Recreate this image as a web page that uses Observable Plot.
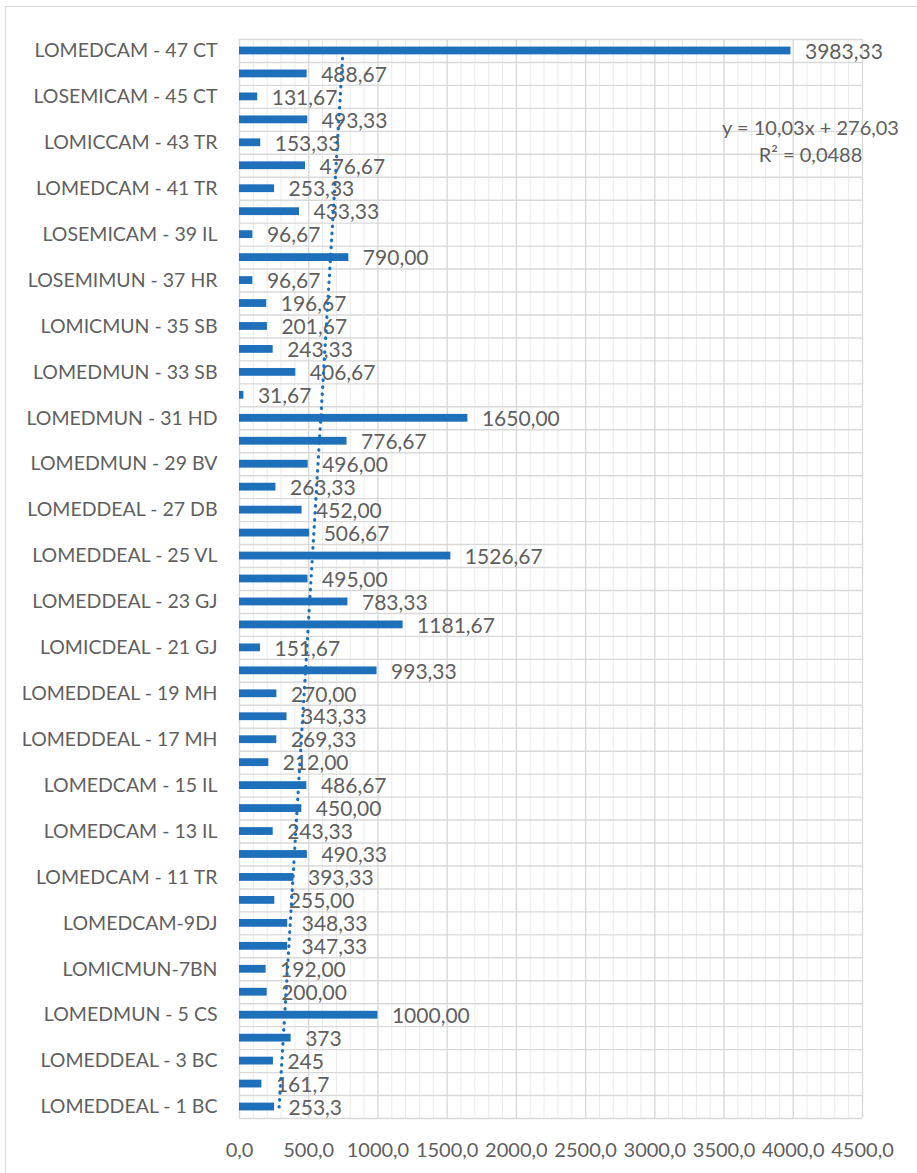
<!DOCTYPE html>
<html><head><meta charset="utf-8">
<script src="https://cdn.jsdelivr.net/npm/d3@7"></script>
<script src="https://cdn.jsdelivr.net/npm/@observablehq/plot@0.6"></script>
<style>
body{margin:0;background:#fff;overflow:hidden;width:917px;height:1173px;position:relative}
#frame{position:absolute;left:5px;top:6px;width:1000px;height:1300px;border:1.3px solid #d9d9d9;box-sizing:border-box}
#chart{position:absolute;left:0;top:0}
</style></head><body><div id="frame"></div><div id="chart"></div>
<script>
// Category index (1 = bottom, 47 = top)
const categoryIds = d3.range(1, 48);
// Category names (only odd ones are printed on the original axis)
const categoryNames = [
  "LOMEDDEAL - 1 BC", "", "LOMEDDEAL - 3 BC", "", "LOMEDMUN - 5 CS", "", "LOMICMUN-7BN", "", "LOMEDCAM-9DJ", "",
  "LOMEDCAM - 11 TR", "", "LOMEDCAM - 13 IL", "", "LOMEDCAM - 15 IL", "", "LOMEDDEAL - 17 MH", "", "LOMEDDEAL - 19 MH", "",
  "LOMICDEAL - 21 GJ", "", "LOMEDDEAL - 23 GJ", "", "LOMEDDEAL - 25 VL", "", "LOMEDDEAL - 27 DB", "", "LOMEDMUN - 29 BV", "",
  "LOMEDMUN - 31 HD", "", "LOMEDMUN - 33 SB", "", "LOMICMUN - 35 SB", "", "LOSEMIMUN - 37 HR", "", "LOSEMICAM - 39 IL", "",
  "LOMEDCAM - 41 TR", "", "LOMICCAM - 43 TR", "", "LOSEMICAM - 45 CT", "", "LOMEDCAM - 47 CT"
];
const values = [
  253.3, 161.7, 245, 373, 1000, 200, 192, 347.33, 348.33, 255,
  393.33, 490.33, 243.33, 450, 486.67, 212, 269.33, 343.33, 270, 993.33,
  151.67, 1181.67, 783.33, 495, 1526.67, 506.67, 452, 263.33, 496, 776.67,
  1650, 31.67, 406.67, 243.33, 201.67, 196.67, 96.67, 790, 96.67, 433.33,
  253.33, 476.67, 153.33, 493.33, 131.67, 488.67, 3983.33
];
const valueLabels = [
  "253,3", "161,7", "245", "373", "1000,00", "200,00", "192,00", "347,33", "348,33", "255,00",
  "393,33", "490,33", "243,33", "450,00", "486,67", "212,00", "269,33", "343,33", "270,00", "993,33",
  "151,67", "1181,67", "783,33", "495,00", "1526,67", "506,67", "452,00", "263,33", "496,00", "776,67",
  "1650,00", "31,67", "406,67", "243,33", "201,67", "196,67", "96,67", "790,00", "96,67", "433,33",
  "253,33", "476,67", "153,33", "493,33", "131,67", "488,67", "3983,33"
];
const xTicks = [0, 500, 1000, 1500, 2000, 2500, 3000, 3500, 4000, 4500];
const trendSlope = 10.03;
const trendIntercept = 276.03;
const trendR2 = 0.0488;

const blue = "#1F70BA";
const textColor = "#5f5f5f";
const fontFamily = "Lato, 'Open Sans', sans-serif";

const rows = categoryIds.map((id, i) => ({id, name: categoryNames[i], value: values[i], label: valueLabels[i]}));
const trend = categoryIds.map(id => ({id, x: trendIntercept + trendSlope * id}));
const minorTicks = d3.range(0, 4501, 100).filter(v => v % 500 !== 0);
const boundaries = d3.range(0, categoryIds.length + 1).map(k => k + 0.5);
const comma = (v, d) => v.toFixed(d).replace(".", ",");
const labeledIds = categoryIds.filter((id, i) => categoryNames[i] !== "");

const chart = Plot.plot({
  width: 917,
  height: 1173,
  marginLeft: 239,
  marginRight: 55,
  marginTop: 39,
  marginBottom: 55,
  style: {fontFamily, fontSize: "20px", color: textColor, background: "transparent", overflow: "visible"},
  x: {domain: [0, 4500]},
  y: {domain: [0.5, 47.5]},
  marks: [
    Plot.ruleX(minorTicks, {stroke: "#ebebeb", strokeWidth: 1}),
    Plot.ruleX(xTicks, {stroke: "#d9d9d9", strokeWidth: 1.4}),
    Plot.ruleY(boundaries, {stroke: "#d9d9d9", strokeWidth: 1.4}),
    Plot.rectX(rows, {x1: 0, x2: "value", y1: d => d.id - 0.17, y2: d => d.id + 0.17, fill: blue}),
    Plot.text(rows, {x: "value", y: "id", text: "label", dx: 14, dy: 1, textAnchor: "start", fill: textColor, fontSize: 21}),
    Plot.line(trend, {x: "x", y: "id", stroke: blue, strokeWidth: 3.2, strokeDasharray: "0.5 6.5", strokeLinecap: "round"}),
    Plot.text([`y = ${comma(trendSlope, 2)}x + ${comma(trendIntercept, 2)}`], {frameAnchor: "top-right", dx: -52, dy: 81, textAnchor: "middle", fill: textColor, fontSize: 20}),
    Plot.text([`R² = ${comma(trendR2, 4)}`], {frameAnchor: "top-right", dx: -52, dy: 108, textAnchor: "middle", fill: textColor, fontSize: 20}),
    Plot.axisX({ticks: xTicks, tickFormat: d => comma(d, 1), tickSize: 0, tickPadding: 24, label: null, fill: textColor, fontSize: 20}),
    Plot.axisY({ticks: labeledIds, tickFormat: id => categoryNames[id - 1], tickSize: 0, tickPadding: 22, label: null, fill: textColor, fontSize: 19.5})
  ]
});
document.getElementById("chart").appendChild(chart);
</script>
</body></html>
